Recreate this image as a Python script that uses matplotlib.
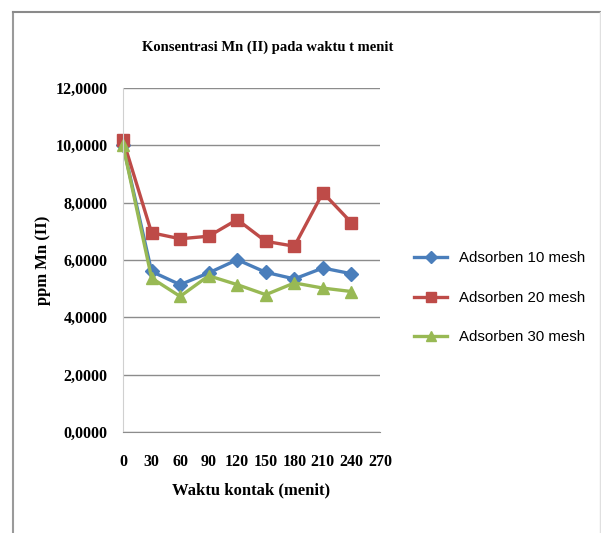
import matplotlib.pyplot as plt
from matplotlib.lines import Line2D

# contact time (minutes)
waktu = [0, 30, 60, 90, 120, 150, 180, 210, 240]

# Mn(II) concentration, ppm
mesh10 = [10.00, 5.60, 5.14, 5.55, 6.01, 5.57, 5.34, 5.72, 5.52]
mesh20 = [10.20, 6.95, 6.74, 6.83, 7.41, 6.65, 6.48, 8.35, 7.30]
mesh30 = [10.00, 5.37, 4.73, 5.45, 5.14, 4.79, 5.20, 5.02, 4.90]

labels = ["Adsorben 10 mesh", "Adsorben 20 mesh", "Adsorben 30 mesh"]
x_ticks = list(range(0, 271, 30))
y_ticks = [0, 2, 4, 6, 8, 10, 12]

serif = "Liberation Serif"

fig = plt.figure(figsize=(6.01, 5.33), dpi=100)
ax = fig.add_axes([0.2047, 0.1895, 0.4276, 0.6454])

styles = [("#4A7EBB", "D", 7.5), ("#BE4B48", "s", 9), ("#98B954", "^", 9)]
for ys, lab, (c, m, ms) in zip([mesh10, mesh20, mesh30], labels, styles):
    ax.plot(waktu, ys, color=c, marker=m, markersize=ms, linewidth=2.4,
            label=lab, clip_on=False)

ax.set_xlim(0, 270)
ax.set_ylim(0, 12)
ax.set_xticks(x_ticks)
ax.set_yticks(y_ticks)
ax.set_yticklabels([f"{v:d},0000" for v in y_ticks])
ax.tick_params(axis="y", length=0, pad=11)
ax.tick_params(axis="x", length=0, pad=16)
for lbl in ax.get_xticklabels() + ax.get_yticklabels():
    lbl.set_fontfamily(serif)
    lbl.set_fontweight("bold")
    lbl.set_fontsize(11.5)

ax.grid(axis="y", color="#8C8C8C", linewidth=1)
ax.set_axisbelow(True)
for s in ["top", "right"]:
    ax.spines[s].set_visible(False)
ax.spines["left"].set_color("#D0D0D0")
ax.spines["bottom"].set_color("#8C8C8C")

ax.set_xlabel("Waktu kontak (menit)", fontfamily=serif, fontweight="bold",
              fontsize=12, labelpad=9)
ax.set_ylabel("ppm Mn (II)", fontfamily=serif, fontweight="bold",
              fontsize=12, labelpad=3)

fig.text(0.445, 0.912, "Konsentrasi Mn (II) pada waktu t menit",
         ha="center", va="center", fontfamily=serif, fontweight="bold",
         fontsize=10.5)

ax.legend(loc="center left", bbox_to_anchor=(1.08, 0.39), frameon=False,
          prop={"family": "Liberation Sans", "size": 10.8},
          labelspacing=1.7, handlelength=2.2, markerscale=0.8)

# outer chart frame
frame = [
    Line2D([0.021, 0.021], [0.0, 0.977], color="#9A9A9A", linewidth=1.5),
    Line2D([0.021, 0.998], [0.977, 0.977], color="#8A8A8A", linewidth=1.5),
    Line2D([0.998, 0.998], [0.0, 0.977], color="#E0E0E0", linewidth=1),
]
for ln in frame:
    fig.add_artist(ln)

fig.savefig("out.png", dpi=100)
